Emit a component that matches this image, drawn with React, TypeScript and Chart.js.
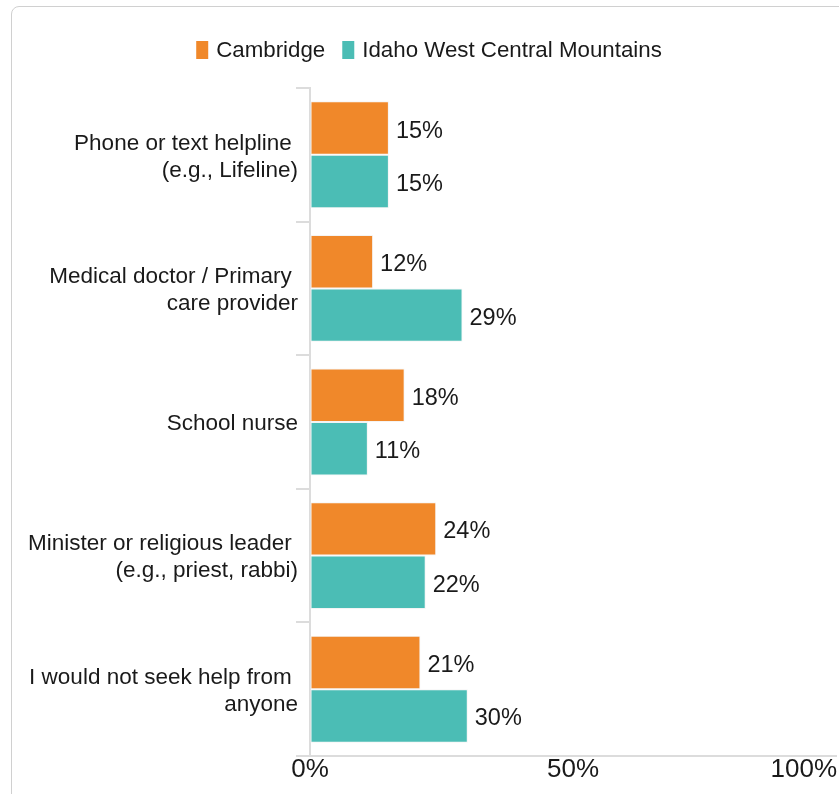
import React, { useEffect, useRef } from "react";
import { Chart, registerables } from "chart.js";

Chart.register(...registerables);

const categories: (string | string[])[] = [
  ["Phone or text helpline ", "(e.g., Lifeline)"],
  ["Medical doctor / Primary ", "care provider"],
  "School nurse",
  ["Minister or religious leader ", "(e.g., priest, rabbi)"],
  ["I would not seek help from ", "anyone"],
];
const seriesNames = ["Cambridge", "Idaho West Central Mountains"];
const cambridge = [15, 12, 18, 24, 21];
const idahoWCM = [15, 29, 11, 22, 30];
const xTickValues = [0, 50, 100];
const seriesColors = ["#F0882A", "#4BBDB5"];

const FONT = "'Liberation Sans', Arial, Helvetica, sans-serif";
const TEXT = "#1a1a1a";

const legendPlugin = {
  id: "customLegend",
  afterDraw(chart: any) {
    const ctx = chart.ctx;
    ctx.save();
    ctx.font = `22.3px ${FONT}`;
    const boxW = 12, boxH = 18, gapBT = 8, gapItems = 17;
    const widths = seriesNames.map((n) => ctx.measureText(n).width);
    const total = widths.reduce((a, w) => a + boxW + gapBT + w, 0) + gapItems * (seriesNames.length - 1);
    let x = 429 - total / 2;
    const cy = 50;
    seriesNames.forEach((n, i) => {
      ctx.fillStyle = seriesColors[i];
      ctx.fillRect(x, cy - boxH / 2, boxW, boxH);
      x += boxW + gapBT;
      ctx.fillStyle = TEXT;
      ctx.textAlign = "left";
      ctx.textBaseline = "alphabetic";
      ctx.fillText(n, x, cy + 7);
      x += widths[i] + gapItems;
    });
    ctx.restore();
  },
};

const valueLabelPlugin = {
  id: "valueLabels",
  afterDatasetsDraw(chart: any) {
    const ctx = chart.ctx;
    ctx.save();
    ctx.font = `23.5px ${FONT}`;
    ctx.fillStyle = TEXT;
    ctx.textAlign = "left";
    ctx.textBaseline = "middle";
    chart.data.datasets.forEach((ds: any, di: number) => {
      const meta = chart.getDatasetMeta(di);
      meta.data.forEach((el: any, i: number) => {
        ctx.fillText(`${ds.data[i]}%`, el.x + 7, el.y + 3);
      });
    });
    ctx.restore();
  },
};

const xLabelPlugin = {
  id: "xLabels",
  afterDraw(chart: any) {
    const ctx = chart.ctx;
    const scale = chart.scales.x;
    ctx.save();
    ctx.font = `26px ${FONT}`;
    ctx.fillStyle = TEXT;
    ctx.textBaseline = "alphabetic";
    ctx.textAlign = "left";
    xTickValues.forEach((v) => {
      const label = `${v}%`;
      const w = ctx.measureText(label).width;
      let x = scale.getPixelForValue(v) - w / 2;
      if (x + w > chart.width - 2) x = chart.width - 2 - w;
      ctx.fillText(label, x, 777);
    });
    ctx.restore();
  },
};

export default function App() {
  const ref = useRef<HTMLCanvasElement>(null);
  useEffect(() => {
    if (!ref.current) return;
    Chart.defaults.font.family = FONT;
    const chart = new Chart(ref.current, {
      type: "bar",
      data: {
        labels: categories,
        datasets: [
          {
            label: seriesNames[0],
            data: cambridge,
            backgroundColor: seriesColors[0],
            borderColor: "#F4F4F4",
            borderWidth: 1,
            borderSkipped: false,
          },
          {
            label: seriesNames[1],
            data: idahoWCM,
            backgroundColor: seriesColors[1],
            borderColor: "#F4F4F4",
            borderWidth: 1,
            borderSkipped: false,
          },
        ],
      },
      options: {
        indexAxis: "y",
        responsive: false,
        animation: false,
        events: [],
        layout: { padding: { top: 88, right: 3, left: 0, bottom: 0 } },
        datasets: { bar: { categoryPercentage: 0.8, barPercentage: 1 } },
        plugins: { legend: { display: false }, tooltip: { enabled: false } },
        scales: {
          x: {
            min: 0,
            max: 100,
            ticks: { display: false, stepSize: 50 },
            grid: { display: true, drawOnChartArea: false, drawTicks: false },
            border: { display: true, color: "#dcdcdc", width: 2 },
            afterFit: (s: any) => {
              s.height = 38;
            },
          },
          y: {
            grid: {
              offset: true,
              drawOnChartArea: false,
              drawTicks: true,
              tickLength: 14,
              color: "#dcdcdc",
              lineWidth: 2,
            },
            border: { display: true, color: "#dcdcdc", width: 2 },
            ticks: {
              font: { size: 22.5, lineHeight: 1.2, family: FONT },
              color: TEXT,
              padding: -2,
              labelOffset: 2,
              autoSkip: false,
            },
            afterFit: (s: any) => {
              s.width = 310;
            },
          },
        },
      } as any,
      plugins: [legendPlugin, valueLabelPlugin, xLabelPlugin],
    });
    return () => chart.destroy();
  }, []);

  return (
    <div
      style={{
        position: "fixed",
        left: 0,
        top: 0,
        width: 839,
        height: 794,
        overflow: "hidden",
        background: "#fff",
      }}
    >
      <div
        style={{
          position: "absolute",
          left: 11,
          top: 6,
          width: 900,
          height: 900,
          border: "1px solid #d0d0d0",
          borderRadius: 8,
          boxSizing: "border-box",
        }}
      />
      <canvas
        ref={ref}
        width={839}
        height={794}
        style={{ position: "absolute", left: 0, top: 0, width: 839, height: 794 }}
      />
    </div>
  );
}
